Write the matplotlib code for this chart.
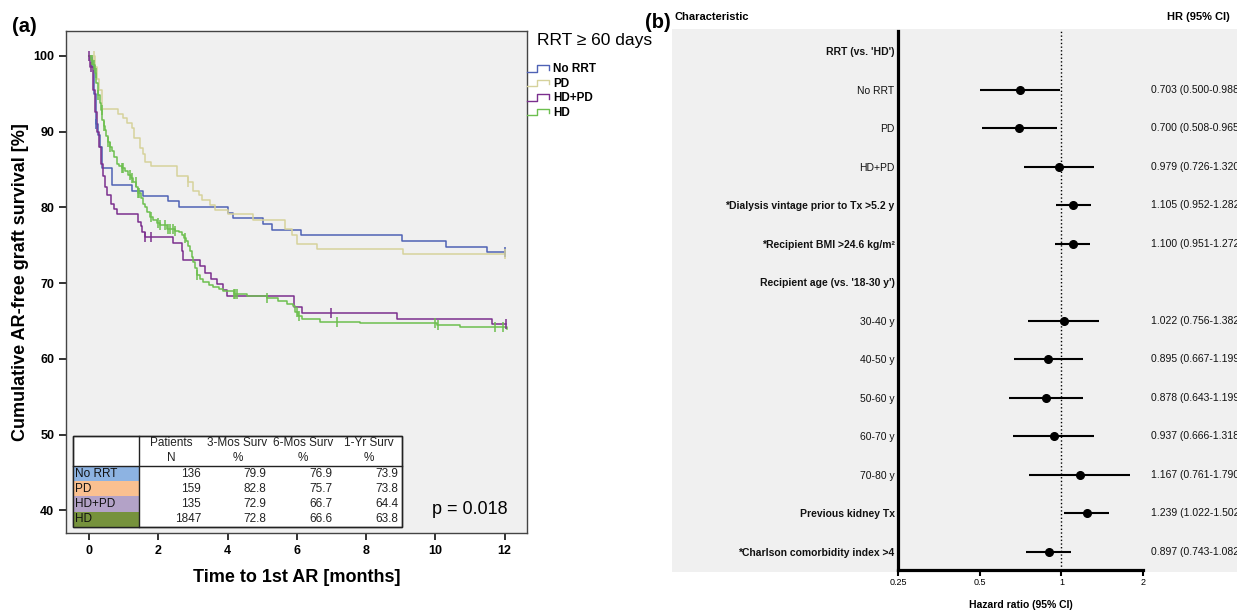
import numpy as np
import matplotlib
matplotlib.use('Agg')
import matplotlib.pyplot as plt
from matplotlib.lines import Line2D
from matplotlib.patches import Rectangle
from matplotlib.legend_handler import HandlerBase
from matplotlib.ticker import NullLocator

plt.rcParams['font.family'] = ['Liberation Sans', 'DejaVu Sans']

W, H = 1237, 610

# ---------------- data: Kaplan-Meier curves (months, %) ----------------
groups = ['No RRT', 'PD', 'HD+PD', 'HD']
line_colors = ['#4f62b5', '#d6d29c', '#7b2f8e', '#6dbf4f']
cell_colors = ['#8db3e2', '#fac090', '#b3a2c7', '#76923c']

t_norrt = [0, 0.08, 0.15, 0.21, 0.26, 0.31, 0.36, 0.65, 1.23, 1.56, 2.29, 2.60,
           4.02, 4.15, 5.03, 5.27, 6.11, 9.03, 10.31, 11.49, 12.02]
s_norrt = [100, 98.5, 95.0, 91.0, 89.6, 88.0, 85.2, 83.0, 82.2, 81.5, 80.8, 80.0,
           79.2, 78.6, 77.8, 77.0, 76.3, 75.6, 74.8, 74.1, 74.1]
c_norrt = [0.21, 12.0]

t_pd = [0, 0.17, 0.22, 0.27, 0.37, 0.84, 0.98, 1.08, 1.23, 1.30, 1.47, 1.56, 1.62,
        1.80, 2.53, 2.86, 3.01, 3.18, 3.25, 3.49, 3.64, 4.02, 4.74, 5.66, 5.85,
        6.00, 6.58, 9.08, 12.02]
s_pd = [100, 98.5, 97.0, 95.5, 93.0, 92.4, 91.8, 91.1, 90.5, 89.2, 87.9, 87.1, 86.0,
        85.5, 84.1, 83.4, 82.2, 81.6, 81.0, 80.3, 79.7, 79.1, 78.4, 77.1, 76.4,
        75.2, 74.5, 73.9, 73.9]
c_pd = [0.14, 2.86, 12.0]

t_hdpd = [0, 0.02, 0.10, 0.17, 0.22, 0.27, 0.33, 0.41, 0.45, 0.52, 0.62, 0.72, 0.79,
          1.42, 1.49, 1.54, 1.61, 2.43, 2.67, 2.72, 3.20, 3.35, 3.52, 3.68, 3.88,
          3.97, 5.93, 6.14, 8.89, 11.64, 12.05]
s_hdpd = [100, 98.5, 95.5, 92.6, 90.0, 88.0, 85.8, 84.2, 82.7, 81.6, 80.5, 79.8, 79.1,
          78.1, 77.5, 76.8, 76.1, 75.3, 74.2, 73.0, 72.3, 71.4, 70.6, 69.9, 69.1,
          68.3, 66.9, 66.1, 65.3, 64.6, 64.6]
c_hdpd = [0.0, 0.04, 1.61, 1.80, 6.99, 12.05]

t_hd = [0, 0.05, 0.12, 0.16, 0.21, 0.26, 0.30, 0.33, 0.38, 0.42, 0.45, 0.50, 0.55,
        0.60, 0.65, 0.72, 0.79, 0.86, 0.94, 1.03, 1.13, 1.20, 1.27, 1.35, 1.42,
        1.49, 1.56, 1.62, 1.68, 1.76, 1.85, 1.95, 2.04, 2.24, 2.48, 2.60, 2.67,
        2.75, 2.80, 2.86, 2.91, 2.96, 3.01, 3.06, 3.11, 3.20, 3.30, 3.45, 3.59,
        3.75, 3.88, 4.17, 4.55, 5.13, 5.45, 5.71, 5.90, 5.95, 6.02, 6.14, 6.67,
        7.83, 10.05, 10.72, 12.07]
s_hd = [100, 99.5, 98.8, 97.7, 96.4, 94.8, 93.8, 92.9, 91.5, 90.8, 90.2, 89.4, 88.7,
        88.0, 87.4, 86.6, 85.8, 85.5, 85.2, 84.8, 84.3, 83.9, 83.4, 82.7, 81.9,
        81.2, 80.5, 80.0, 79.4, 78.8, 78.3, 78.0, 77.7, 77.1, 76.9, 76.7, 76.4,
        76.0, 75.5, 74.9, 74.2, 73.5, 72.8, 72.0, 71.1, 70.6, 70.2, 69.8, 69.5,
        69.2, 68.9, 68.5, 68.3, 68.0, 67.7, 67.3, 67.0, 66.2, 65.6, 65.2, 64.9,
        64.7, 64.5, 64.2, 64.0]
c_hd = [0.07, 0.14, 0.19, 0.26, 0.36, 0.43, 0.55, 0.60, 0.94, 0.98, 1.18, 1.23, 1.34,
        1.42, 1.44, 1.80, 2.00, 2.04, 2.19, 2.29, 2.33, 2.43, 2.48, 2.77, 3.11,
        4.17, 4.21, 4.26, 5.13, 6.00, 6.05, 7.15, 10.00, 10.09, 11.73, 11.97]

curves_t = [t_norrt, t_pd, t_hdpd, t_hd]
curves_s = [s_norrt, s_pd, s_hdpd, s_hd]
curves_c = [c_norrt, c_pd, c_hdpd, c_hd]

# table
n_patients = [136, 159, 135, 1847]
surv_3mo = [79.9, 82.8, 72.9, 72.8]
surv_6mo = [76.9, 75.7, 66.7, 66.6]
surv_1yr = [73.9, 73.8, 64.4, 63.8]
table_head1 = ['Patients', '3-Mos Surv', '6-Mos Surv', '1-Yr Surv']
table_head2 = ['N', '%', '%', '%']
p_text = 'p = 0.018'

# ---------------- data: forest plot ----------------
char_labels = ["RRT (vs. 'HD')", 'No RRT', 'PD', 'HD+PD',
               '*Dialysis vintage prior to Tx >5.2 y', '*Recipient BMI >24.6 kg/m²',
               "Recipient age (vs. '18-30 y')", '30-40 y', '40-50 y', '50-60 y',
               '60-70 y', '70-80 y', 'Previous kidney Tx', '*Charlson comorbidity index >4']
char_bold = [True, False, False, False, True, True, True, False, False, False,
             False, False, True, True]
hr_est = [np.nan, 0.703, 0.700, 0.979, 1.105, 1.100, np.nan, 1.022, 0.895, 0.878,
          0.937, 1.167, 1.239, 0.897]
hr_lo = [np.nan, 0.500, 0.508, 0.726, 0.952, 0.951, np.nan, 0.756, 0.667, 0.643,
         0.666, 0.761, 1.022, 0.743]
hr_hi = [np.nan, 0.988, 0.965, 1.320, 1.282, 1.272, np.nan, 1.382, 1.199, 1.199,
         1.318, 1.790, 1.502, 1.082]
hr_ticks = [0.25, 0.5, 1, 2]
hr_ticklabels = ['0.25', '0.5', '1', '2']

# ---------------- figure ----------------
fig = plt.figure(figsize=(W / 100, H / 100), dpi=100)


def fig_xy(px, py):
    return px / W, 1 - py / H


# ===== panel (a) =====
ax1 = fig.add_axes([66 / W, 1 - 533 / H, 461 / W, 502 / H])
ax1.set_facecolor('#f0f0f0')
ax1.set_xlim(-0.67, 12.65)
ax1.set_ylim(37.0, 103.3)

handles = []
for t, s, c, col, g in zip(curves_t, curves_s, curves_c, line_colors, groups):
    t = np.asarray(t)
    s = np.asarray(s)
    ln, = ax1.plot(t, s, drawstyle='steps-post', color=col, lw=1.1, label=g, zorder=3)
    handles.append(ln)
    idx = np.searchsorted(t, np.asarray(c), side='right') - 1
    ax1.plot(c, s[idx], ls='none', marker='|', ms=7, mew=1.1, color=col, zorder=4)

ax1.set_xticks(range(0, 13, 2))
ax1.set_xticklabels([str(v) for v in range(0, 13, 2)], fontweight='bold')
ax1.set_yticks(range(40, 101, 10))
ax1.set_yticklabels([str(v) for v in range(40, 101, 10)], fontweight='bold')
ax1.tick_params(labelsize=9, width=1.3, length=5, color='#222222')
for sp in ax1.spines.values():
    sp.set_color('#444444')
    sp.set_linewidth(1.0)
ax1.set_xlabel('Time to 1st AR [months]', fontsize=13, fontweight='bold', labelpad=9)
ax1.set_ylabel('Cumulative AR-free graft survival [%]', fontsize=13,
               fontweight='bold', labelpad=3)

# summary table (drawn in pixel layout converted to axes fraction)
def ax_xy(px, py):
    return (px - 66) / 461, (533 - py) / 502


tb_left, tb_right, tb_top, hd_bot, row_h, col1_r = 72.7, 401.7, 435.7, 466.0, 15.2, 138.7
x0, y0 = ax_xy(tb_left, hd_bot + 4 * row_h)
x1, y1 = ax_xy(tb_right, tb_top)
ax1.add_patch(Rectangle((x0, y0), x1 - x0, y1 - y0, transform=ax1.transAxes,
                        facecolor='white', edgecolor='#222222', lw=1.0, zorder=5))
for i, (g, cc) in enumerate(zip(groups, cell_colors)):
    cx0, cy0 = ax_xy(tb_left, hd_bot + (i + 1) * row_h)
    cx1, cy1 = ax_xy(col1_r, hd_bot + i * row_h)
    ax1.add_patch(Rectangle((cx0, cy0), cx1 - cx0, cy1 - cy0, transform=ax1.transAxes,
                            facecolor=cc, edgecolor='none', zorder=5))
    tx, ty = ax_xy(75, hd_bot + (i + 0.5) * row_h)
    ax1.text(tx, ty, g, transform=ax1.transAxes, fontsize=8.5, va='center',
             ha='left', zorder=7, color='#111111')
lx0, ly = ax_xy(tb_left, hd_bot)
lx1, _ = ax_xy(tb_right, hd_bot)
ax1.plot([lx0, lx1], [ly, ly], transform=ax1.transAxes, color='#222222', lw=1.0, zorder=6)
vx, vy0 = ax_xy(col1_r, tb_top)
_, vy1 = ax_xy(col1_r, hd_bot + 4 * row_h)
ax1.plot([vx, vx], [vy0, vy1], transform=ax1.transAxes, color='#222222', lw=1.0, zorder=6)
ax1.add_patch(Rectangle((x0, y0), x1 - x0, y1 - y0, transform=ax1.transAxes,
                        facecolor='none', edgecolor='#222222', lw=1.0, zorder=6))

head_cx = [171, 237.5, 303, 369]
val_rx = [201, 266.7, 332, 398]
for j in range(4):
    hx, hy = ax_xy(head_cx[j], 443.3)
    ax1.text(hx, hy, table_head1[j], transform=ax1.transAxes, fontsize=8.5,
             ha='center', va='center', zorder=7, color='#222222')
    hx, hy = ax_xy(head_cx[j], 458.3)
    ax1.text(hx, hy, table_head2[j], transform=ax1.transAxes, fontsize=8.5,
             ha='center', va='center', zorder=7, color='#222222')
cols = [[str(v) for v in n_patients], [f'{v:.1f}' for v in surv_3mo],
        [f'{v:.1f}' for v in surv_6mo], [f'{v:.1f}' for v in surv_1yr]]
for j, colvals in enumerate(cols):
    for i, v in enumerate(colvals):
        vx_, vy_ = ax_xy(val_rx[j], hd_bot + (i + 0.5) * row_h)
        ax1.text(vx_, vy_, v, transform=ax1.transAxes, fontsize=8.5,
                 ha='right', va='center', zorder=7, color='#222222')

px_, py_ = ax_xy(470, 509)
ax1.text(px_, py_, p_text, transform=ax1.transAxes, fontsize=13, ha='center', va='center')


# legend
class StepHandler(HandlerBase):
    def create_artists(self, legend, orig_handle, xdescent, ydescent, width,
                       height, fontsize, trans):
        xs = np.array([0, 0.45, 0.45, 1.0, 1.0]) * width - xdescent
        ys = np.array([0.05, 0.05, 0.85, 0.85, 0.3]) * height - ydescent
        return [Line2D(xs, ys, color=orig_handle.get_color(), lw=1.0, transform=trans)]


leg = ax1.legend(handles=handles, labels=groups, loc='upper left',
                 bbox_to_anchor=fig_xy(527, 63), bbox_transform=fig.transFigure,
                 frameon=False, prop={'weight': 'bold', 'size': 8.5},
                 handler_map={Line2D: StepHandler()}, handlelength=1.9,
                 handletextpad=0.3, labelspacing=0.22, borderpad=0, borderaxespad=0)
fig.text(*fig_xy(537, 40), 'RRT ≥ 60 days', fontsize=12.5, va='center', ha='left')

fig.text(*fig_xy(12, 26), '(a)', fontsize=14.5, fontweight='bold', va='center')
fig.text(*fig_xy(645, 23), '(b)', fontsize=14.5, fontweight='bold', va='center')

# ===== panel (b) =====
fig.add_artist(Rectangle(fig_xy(672, 572), (W - 672) / W, (572 - 29) / H,
                         transform=fig.transFigure, facecolor='#f0f0f0',
                         edgecolor='none', zorder=-1))
ax2 = fig.add_axes([898 / W, 1 - 570 / H, 245 / W, 539 / H])
ax2.set_facecolor('none')
ax2.set_xscale('log', base=2)
ax2.set_xlim(0.25, 2)
rows = np.arange(len(char_labels))
ax2.set_ylim(13.48, -0.52)
ax2.axvline(1, color='black', ls=':', lw=1.0, zorder=1)
ax2.hlines(rows, hr_lo, hr_hi, color='black', lw=1.5, zorder=2)
ax2.plot(hr_est, rows, 'o', color='black', ms=5.5, zorder=3)
for sp in ['top', 'right']:
    ax2.spines[sp].set_visible(False)
for sp in ['left', 'bottom']:
    ax2.spines[sp].set_linewidth(2.3)
    ax2.spines[sp].set_color('black')
ax2.set_yticks(rows)
ax2.set_yticklabels(char_labels, fontsize=7.5)
for lab, b in zip(ax2.get_yticklabels(), char_bold):
    lab.set_fontweight('bold' if b else 'normal')
    lab.set_color('#111111')
ax2.tick_params(axis='y', length=0, pad=2.5)
ax2.xaxis.set_minor_locator(NullLocator())
ax2.set_xticks(hr_ticks)
ax2.set_xticklabels(hr_ticklabels)
ax2.tick_params(axis='x', length=4, width=1.5, labelsize=6.5, pad=2)
ax2.set_xlabel('Hazard ratio (95% CI)', fontsize=7.5, fontweight='bold', labelpad=9)

for r, e, lo, hi in zip(rows, hr_est, hr_lo, hr_hi):
    if np.isnan(e):
        continue
    ax2.text(1.031, r, f'{e:.3f} ({lo:.3f}-{hi:.3f})', transform=ax2.get_yaxis_transform(),
             fontsize=7.5, va='center', ha='left', clip_on=False, color='#111111')

fig.text(*fig_xy(675, 17), 'Characteristic', fontsize=8, fontweight='bold', va='center')
fig.text(*fig_xy(1198, 17), 'HR (95% CI)', fontsize=8, fontweight='bold',
         va='center', ha='center')

fig.savefig('out.png', dpi=100)
